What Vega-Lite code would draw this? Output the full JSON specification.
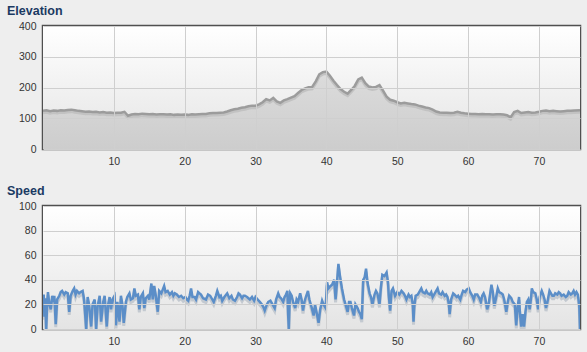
{
  "$schema": "https://vega.github.io/schema/vega-lite/v6.json",
  "background": "#eeeeee",
  "padding": {"left": 5, "top": 3, "right": 9, "bottom": 5},
  "spacing": 57,
  "bounds": "flush",
  "datasets": {
    "elev": [
      {"km":0,"elev":124},{"km":0.5,"elev":126},{"km":1,"elev":123},{"km":1.5,"elev":125},{"km":2,"elev":124},{"km":2.5,"elev":126},{"km":3,"elev":125},{"km":3.5,"elev":127},{"km":4,"elev":128},{"km":4.5,"elev":126},{"km":5,"elev":124},{"km":5.5,"elev":123},{"km":6,"elev":121},{"km":6.5,"elev":122},{"km":7,"elev":120},{"km":7.5,"elev":121},{"km":8,"elev":119},{"km":8.5,"elev":120},{"km":9,"elev":118},{"km":9.5,"elev":119},{"km":10,"elev":117},{"km":10.5,"elev":118},{"km":11,"elev":118},{"km":11.5,"elev":121},{"km":12,"elev":108},{"km":12.5,"elev":112},{"km":13,"elev":114},{"km":13.5,"elev":113},{"km":14,"elev":115},{"km":14.5,"elev":114},{"km":15,"elev":113},{"km":15.5,"elev":114},{"km":16,"elev":112},{"km":16.5,"elev":113},{"km":17,"elev":113},{"km":17.5,"elev":112},{"km":18,"elev":113},{"km":18.5,"elev":111},{"km":19,"elev":112},{"km":19.5,"elev":111},{"km":20,"elev":112},{"km":20.5,"elev":111},{"km":21,"elev":113},{"km":21.5,"elev":112},{"km":22,"elev":113},{"km":22.5,"elev":114},{"km":23,"elev":114},{"km":23.5,"elev":116},{"km":24,"elev":117},{"km":24.5,"elev":117},{"km":25,"elev":118},{"km":25.5,"elev":119},{"km":26,"elev":122},{"km":26.5,"elev":126},{"km":27,"elev":129},{"km":27.5,"elev":131},{"km":28,"elev":134},{"km":28.5,"elev":136},{"km":29,"elev":139},{"km":29.5,"elev":141},{"km":30,"elev":141},{"km":30.5,"elev":145},{"km":31,"elev":152},{"km":31.5,"elev":162},{"km":32,"elev":158},{"km":32.5,"elev":166},{"km":33,"elev":155},{"km":33.5,"elev":150},{"km":34,"elev":158},{"km":34.5,"elev":162},{"km":35,"elev":167},{"km":35.5,"elev":172},{"km":36,"elev":182},{"km":36.5,"elev":192},{"km":37,"elev":197},{"km":37.5,"elev":201},{"km":38,"elev":202},{"km":38.5,"elev":220},{"km":39,"elev":243},{"km":39.5,"elev":250},{"km":40,"elev":252},{"km":40.5,"elev":238},{"km":41,"elev":222},{"km":41.5,"elev":208},{"km":42,"elev":195},{"km":42.5,"elev":186},{"km":43,"elev":180},{"km":43.5,"elev":192},{"km":44,"elev":205},{"km":44.5,"elev":226},{"km":45,"elev":232},{"km":45.5,"elev":214},{"km":46,"elev":203},{"km":46.5,"elev":200},{"km":47,"elev":202},{"km":47.5,"elev":208},{"km":48,"elev":190},{"km":48.5,"elev":170},{"km":49,"elev":160},{"km":49.5,"elev":157},{"km":50,"elev":152},{"km":50.5,"elev":148},{"km":51,"elev":150},{"km":51.5,"elev":148},{"km":52,"elev":146},{"km":52.5,"elev":145},{"km":53,"elev":141},{"km":53.5,"elev":138},{"km":54,"elev":135},{"km":54.5,"elev":133},{"km":55,"elev":128},{"km":55.5,"elev":122},{"km":56,"elev":119},{"km":56.5,"elev":118},{"km":57,"elev":118},{"km":57.5,"elev":117},{"km":58,"elev":118},{"km":58.5,"elev":121},{"km":59,"elev":118},{"km":59.5,"elev":116},{"km":60,"elev":115},{"km":60.5,"elev":114},{"km":61,"elev":114},{"km":61.5,"elev":113},{"km":62,"elev":114},{"km":62.5,"elev":113},{"km":63,"elev":113},{"km":63.5,"elev":112},{"km":64,"elev":113},{"km":64.5,"elev":113},{"km":65,"elev":112},{"km":65.5,"elev":110},{"km":66,"elev":103},{"km":66.5,"elev":120},{"km":67,"elev":124},{"km":67.5,"elev":117},{"km":68,"elev":119},{"km":68.5,"elev":120},{"km":69,"elev":118},{"km":69.5,"elev":119},{"km":70,"elev":121},{"km":70.5,"elev":124},{"km":71,"elev":125},{"km":71.5,"elev":123},{"km":72,"elev":124},{"km":72.5,"elev":123},{"km":73,"elev":122},{"km":73.5,"elev":123},{"km":74,"elev":124},{"km":74.5,"elev":124},{"km":75,"elev":125},{"km":75.8,"elev":126}
    ],
    "speed": [
      {"km":0.0,"speed":20},{"km":0.1,"speed":28},{"km":0.2,"speed":10},{"km":0.3,"speed":25},{"km":0.45,"speed":0},{"km":0.6,"speed":22},{"km":0.7,"speed":30},{"km":0.9,"speed":20},{"km":1.1,"speed":16},{"km":1.3,"speed":27},{"km":1.5,"speed":22},{"km":1.6,"speed":27},{"km":1.8,"speed":4},{"km":2.0,"speed":24},{"km":2.3,"speed":27},{"km":2.5,"speed":30},{"km":2.7,"speed":31},{"km":3.0,"speed":28},{"km":3.2,"speed":30},{"km":3.5,"speed":29},{"km":3.7,"speed":14},{"km":3.9,"speed":27},{"km":4.2,"speed":31},{"km":4.4,"speed":33},{"km":4.6,"speed":28},{"km":4.8,"speed":31},{"km":5.1,"speed":29},{"km":5.3,"speed":30},{"km":5.6,"speed":31},{"km":5.8,"speed":24},{"km":6.1,"speed":0},{"km":6.3,"speed":26},{"km":6.5,"speed":20},{"km":6.8,"speed":2},{"km":7.0,"speed":20},{"km":7.3,"speed":24},{"km":7.5,"speed":0},{"km":7.7,"speed":18},{"km":8.0,"speed":27},{"km":8.2,"speed":6},{"km":8.5,"speed":22},{"km":8.7,"speed":27},{"km":9.0,"speed":2},{"km":9.2,"speed":20},{"km":9.4,"speed":26},{"km":9.6,"speed":16},{"km":9.8,"speed":24},{"km":10.1,"speed":27},{"km":10.3,"speed":3},{"km":10.5,"speed":22},{"km":10.8,"speed":6},{"km":11.0,"speed":27},{"km":11.2,"speed":20},{"km":11.4,"speed":5},{"km":11.7,"speed":22},{"km":11.9,"speed":26},{"km":12.2,"speed":29},{"km":12.4,"speed":24},{"km":12.7,"speed":25},{"km":12.9,"speed":33},{"km":13.1,"speed":27},{"km":13.4,"speed":28},{"km":13.6,"speed":16},{"km":13.8,"speed":26},{"km":14.1,"speed":29},{"km":14.3,"speed":17},{"km":14.5,"speed":25},{"km":14.8,"speed":27},{"km":15.0,"speed":24},{"km":15.3,"speed":37},{"km":15.5,"speed":24},{"km":15.7,"speed":35},{"km":15.9,"speed":28},{"km":16.2,"speed":14},{"km":16.4,"speed":31},{"km":16.7,"speed":29},{"km":16.9,"speed":32},{"km":17.1,"speed":35},{"km":17.3,"speed":30},{"km":17.6,"speed":31},{"km":17.9,"speed":28},{"km":18.2,"speed":30},{"km":18.4,"speed":27},{"km":18.6,"speed":29},{"km":18.9,"speed":28},{"km":19.2,"speed":26},{"km":19.5,"speed":27},{"km":19.8,"speed":25},{"km":20.1,"speed":26},{"km":20.3,"speed":24},{"km":20.5,"speed":23},{"km":20.7,"speed":27},{"km":20.9,"speed":33},{"km":21.1,"speed":26},{"km":21.4,"speed":26},{"km":21.6,"speed":24},{"km":21.9,"speed":30},{"km":22.1,"speed":29},{"km":22.3,"speed":28},{"km":22.6,"speed":25},{"km":23.0,"speed":24},{"km":23.3,"speed":28},{"km":23.6,"speed":27},{"km":23.8,"speed":25},{"km":24.1,"speed":22},{"km":24.4,"speed":27},{"km":24.6,"speed":31},{"km":24.9,"speed":26},{"km":25.1,"speed":27},{"km":25.3,"speed":23},{"km":25.6,"speed":26},{"km":26.0,"speed":29},{"km":26.3,"speed":25},{"km":26.6,"speed":27},{"km":26.8,"speed":24},{"km":27.1,"speed":23},{"km":27.4,"speed":26},{"km":27.6,"speed":29},{"km":27.8,"speed":28},{"km":28.1,"speed":25},{"km":28.3,"speed":27},{"km":28.5,"speed":27},{"km":28.8,"speed":26},{"km":29.0,"speed":25},{"km":29.2,"speed":24},{"km":29.5,"speed":26},{"km":29.8,"speed":23},{"km":30.0,"speed":26},{"km":30.3,"speed":24},{"km":30.6,"speed":22},{"km":30.9,"speed":20},{"km":31.1,"speed":18},{"km":31.3,"speed":15},{"km":31.6,"speed":20},{"km":31.8,"speed":22},{"km":32.1,"speed":23},{"km":32.3,"speed":21},{"km":32.5,"speed":19},{"km":32.7,"speed":17},{"km":32.9,"speed":24},{"km":33.2,"speed":29},{"km":33.4,"speed":26},{"km":33.6,"speed":25},{"km":33.9,"speed":22},{"km":34.1,"speed":26},{"km":34.3,"speed":28},{"km":34.5,"speed":31},{"km":34.6,"speed":12},{"km":34.7,"speed":0},{"km":34.8,"speed":20},{"km":34.9,"speed":29},{"km":35.1,"speed":27},{"km":35.3,"speed":22},{"km":35.6,"speed":17},{"km":35.8,"speed":24},{"km":36.0,"speed":22},{"km":36.3,"speed":29},{"km":36.5,"speed":24},{"km":36.7,"speed":15},{"km":36.9,"speed":22},{"km":37.1,"speed":26},{"km":37.4,"speed":31},{"km":37.6,"speed":24},{"km":37.9,"speed":18},{"km":38.2,"speed":11},{"km":38.4,"speed":20},{"km":38.6,"speed":14},{"km":38.9,"speed":5},{"km":39.1,"speed":15},{"km":39.4,"speed":23},{"km":39.6,"speed":20},{"km":39.9,"speed":17},{"km":40.1,"speed":38},{"km":40.3,"speed":33},{"km":40.6,"speed":35},{"km":40.8,"speed":36},{"km":41.1,"speed":40},{"km":41.3,"speed":24},{"km":41.5,"speed":38},{"km":41.7,"speed":53},{"km":41.9,"speed":44},{"km":42.0,"speed":40},{"km":42.2,"speed":33},{"km":42.5,"speed":24},{"km":42.7,"speed":20},{"km":43.0,"speed":14},{"km":43.2,"speed":22},{"km":43.4,"speed":22},{"km":43.6,"speed":17},{"km":43.9,"speed":11},{"km":44.1,"speed":20},{"km":44.4,"speed":17},{"km":44.6,"speed":14},{"km":44.8,"speed":12},{"km":45.0,"speed":8},{"km":45.2,"speed":40},{"km":45.4,"speed":42},{"km":45.6,"speed":49},{"km":45.8,"speed":38},{"km":46.1,"speed":29},{"km":46.3,"speed":26},{"km":46.5,"speed":20},{"km":46.8,"speed":28},{"km":47.0,"speed":31},{"km":47.2,"speed":29},{"km":47.5,"speed":20},{"km":47.7,"speed":34},{"km":47.9,"speed":44},{"km":48.2,"speed":43},{"km":48.5,"speed":46},{"km":48.7,"speed":38},{"km":48.8,"speed":28},{"km":49.0,"speed":15},{"km":49.2,"speed":31},{"km":49.4,"speed":33},{"km":49.7,"speed":27},{"km":50.0,"speed":30},{"km":50.3,"speed":28},{"km":50.6,"speed":31},{"km":50.9,"speed":29},{"km":51.1,"speed":27},{"km":51.3,"speed":24},{"km":51.6,"speed":28},{"km":51.8,"speed":26},{"km":52.0,"speed":27},{"km":52.2,"speed":20},{"km":52.3,"speed":6},{"km":52.4,"speed":18},{"km":52.6,"speed":27},{"km":52.9,"speed":28},{"km":53.1,"speed":30},{"km":53.4,"speed":33},{"km":53.6,"speed":30},{"km":53.9,"speed":29},{"km":54.1,"speed":31},{"km":54.3,"speed":29},{"km":54.6,"speed":28},{"km":54.8,"speed":30},{"km":55.0,"speed":26},{"km":55.3,"speed":29},{"km":55.5,"speed":31},{"km":55.7,"speed":33},{"km":55.9,"speed":29},{"km":56.2,"speed":28},{"km":56.4,"speed":30},{"km":56.7,"speed":27},{"km":56.9,"speed":28},{"km":57.1,"speed":26},{"km":57.3,"speed":20},{"km":57.4,"speed":12},{"km":57.6,"speed":24},{"km":57.9,"speed":29},{"km":58.1,"speed":28},{"km":58.4,"speed":26},{"km":58.6,"speed":27},{"km":58.9,"speed":24},{"km":59.1,"speed":28},{"km":59.3,"speed":31},{"km":59.6,"speed":30},{"km":59.8,"speed":32},{"km":60.1,"speed":33},{"km":60.3,"speed":30},{"km":60.6,"speed":27},{"km":60.8,"speed":24},{"km":61.0,"speed":28},{"km":61.3,"speed":28},{"km":61.6,"speed":25},{"km":61.8,"speed":22},{"km":62.0,"speed":27},{"km":62.2,"speed":29},{"km":62.4,"speed":26},{"km":62.7,"speed":16},{"km":62.9,"speed":20},{"km":63.1,"speed":28},{"km":63.3,"speed":36},{"km":63.5,"speed":30},{"km":63.7,"speed":19},{"km":63.9,"speed":24},{"km":64.2,"speed":33},{"km":64.4,"speed":30},{"km":64.7,"speed":29},{"km":64.9,"speed":28},{"km":65.1,"speed":24},{"km":65.4,"speed":14},{"km":65.6,"speed":22},{"km":65.8,"speed":27},{"km":66.1,"speed":25},{"km":66.3,"speed":22},{"km":66.6,"speed":20},{"km":66.8,"speed":3},{"km":67.0,"speed":18},{"km":67.2,"speed":26},{"km":67.3,"speed":15},{"km":67.5,"speed":2},{"km":67.7,"speed":12},{"km":67.9,"speed":2},{"km":68.1,"speed":14},{"km":68.3,"speed":22},{"km":68.5,"speed":24},{"km":68.7,"speed":16},{"km":68.9,"speed":26},{"km":69.0,"speed":33},{"km":69.2,"speed":30},{"km":69.5,"speed":29},{"km":69.7,"speed":24},{"km":69.9,"speed":16},{"km":70.1,"speed":26},{"km":70.4,"speed":31},{"km":70.6,"speed":28},{"km":70.8,"speed":24},{"km":71.0,"speed":17},{"km":71.2,"speed":22},{"km":71.5,"speed":31},{"km":71.7,"speed":29},{"km":71.9,"speed":27},{"km":72.1,"speed":27},{"km":72.3,"speed":29},{"km":72.6,"speed":28},{"km":72.8,"speed":30},{"km":73.0,"speed":29},{"km":73.2,"speed":27},{"km":73.5,"speed":28},{"km":73.8,"speed":26},{"km":74.0,"speed":27},{"km":74.2,"speed":30},{"km":74.5,"speed":28},{"km":74.7,"speed":29},{"km":74.9,"speed":31},{"km":75.1,"speed":28},{"km":75.3,"speed":30},{"km":75.5,"speed":28},{"km":75.7,"speed":19},{"km":75.8,"speed":0}
    ]
  },
  "vconcat": [
    {
      "width": 537,
      "height": 123,
      "title": "Elevation",
      "layer": [
        {
          "data": {"values": [{}]},
          "mark": {"type": "rect", "fill": {"gradient": "linear", "x1": 0, "y1": 0, "x2": 0, "y2": 1, "stops": [{"offset": 0, "color": "#ffffff"}, {"offset": 1, "color": "#e4e4e4"}]}},
          "encoding": {
            "x": {"datum": 0, "type": "quantitative", "scale": {"domain": [0, 75.8], "nice": false, "zero": false}, "axis": {"values": [10, 20, 30, 40, 50, 60, 70], "labelPadding": 7, "grid": true, "title": null, "zindex": 1, "labelOverlap": false}},
            "x2": {"datum": 75.8},
            "y": {"datum": 0, "type": "quantitative", "scale": {"domain": [0, 400], "nice": false}, "axis": {"values": [0, 100, 200, 300, 400], "labelPadding": 7, "grid": true, "title": null, "zindex": 1, "labelOverlap": false}},
            "y2": {"datum": 400}
          }
        },
        {
          "data": {"name": "elev"},
          "mark": {"type": "area", "clip": true, "fill": {"gradient": "linear", "x1": 0, "y1": 0, "x2": 0, "y2": 1, "stops": [{"offset": 0, "color": "#dcdcdc"}, {"offset": 1, "color": "#cdcdcd"}]}},
          "encoding": {
            "x": {"field": "km", "type": "quantitative", "axis": {"values": [10, 20, 30, 40, 50, 60, 70], "labelPadding": 7, "grid": true, "title": null, "zindex": 1, "labelOverlap": false}},
            "y": {"field": "elev", "type": "quantitative", "axis": {"values": [0, 100, 200, 300, 400], "labelPadding": 7, "grid": true, "title": null, "zindex": 1, "labelOverlap": false}}
          }
        },
        {
          "data": {"name": "elev"},
          "mark": {"type": "line", "clip": true, "stroke": "#c2c2c2", "strokeWidth": 3, "yOffset": 2},
          "encoding": {
            "x": {"field": "km", "type": "quantitative", "axis": {"values": [10, 20, 30, 40, 50, 60, 70], "labelPadding": 7, "grid": true, "title": null, "zindex": 1, "labelOverlap": false}},
            "y": {"field": "elev", "type": "quantitative", "axis": {"values": [0, 100, 200, 300, 400], "labelPadding": 7, "grid": true, "title": null, "zindex": 1, "labelOverlap": false}}
          }
        },
        {
          "data": {"name": "elev"},
          "mark": {"type": "line", "clip": true, "stroke": "#9c9c9c", "strokeWidth": 2.5},
          "encoding": {
            "x": {"field": "km", "type": "quantitative", "axis": {"values": [10, 20, 30, 40, 50, 60, 70], "labelPadding": 7, "grid": true, "title": null, "zindex": 1, "labelOverlap": false}},
            "y": {"field": "elev", "type": "quantitative", "axis": {"values": [0, 100, 200, 300, 400], "labelPadding": 7, "grid": true, "title": null, "zindex": 1, "labelOverlap": false}}
          }
        }
      ]
    },
    {
      "width": 537,
      "height": 123,
      "title": "Speed",
      "layer": [
        {
          "data": {"values": [{}]},
          "mark": {"type": "rect", "fill": {"gradient": "linear", "x1": 0, "y1": 0, "x2": 0, "y2": 1, "stops": [{"offset": 0, "color": "#ffffff"}, {"offset": 1, "color": "#e4e4e4"}]}},
          "encoding": {
            "x": {"datum": 0, "type": "quantitative", "scale": {"domain": [0, 75.8], "nice": false, "zero": false}, "axis": {"values": [10, 20, 30, 40, 50, 60, 70], "labelPadding": 7, "grid": true, "title": null, "zindex": 1, "labelOverlap": false}},
            "x2": {"datum": 75.8},
            "y": {"datum": 0, "type": "quantitative", "scale": {"domain": [0, 100], "nice": false}, "axis": {"values": [0, 20, 40, 60, 80, 100], "labelPadding": 7, "grid": true, "title": null, "zindex": 1, "labelOverlap": false}},
            "y2": {"datum": 100}
          }
        },
        {
          "data": {"name": "speed"},
          "mark": {"type": "line", "clip": true, "stroke": "#c3c9d0", "strokeWidth": 3, "yOffset": 3},
          "encoding": {
            "x": {"field": "km", "type": "quantitative", "axis": {"values": [10, 20, 30, 40, 50, 60, 70], "labelPadding": 7, "grid": true, "title": null, "zindex": 1, "labelOverlap": false}},
            "y": {"field": "speed", "type": "quantitative", "axis": {"values": [0, 20, 40, 60, 80, 100], "labelPadding": 7, "grid": true, "title": null, "zindex": 1, "labelOverlap": false}}
          }
        },
        {
          "data": {"name": "speed"},
          "mark": {"type": "line", "clip": true, "stroke": "#5b8ec8", "strokeWidth": 2.5},
          "encoding": {
            "x": {"field": "km", "type": "quantitative", "axis": {"values": [10, 20, 30, 40, 50, 60, 70], "labelPadding": 7, "grid": true, "title": null, "zindex": 1, "labelOverlap": false}},
            "y": {"field": "speed", "type": "quantitative", "axis": {"values": [0, 20, 40, 60, 80, 100], "labelPadding": 7, "grid": true, "title": null, "zindex": 1, "labelOverlap": false}}
          }
        }
      ]
    }
  ],
  "config": {
    "view": {"stroke": "#505050", "strokeWidth": 2.5},
    "axis": {"labelFont": "Liberation Sans", "labelFontSize": 10.5, "labelColor": "#333333", "gridColor": "#cfcfcf", "gridWidth": 1, "domain": false, "ticks": false, "title": null},
    "title": {"font": "Liberation Sans", "fontSize": 12.5, "fontWeight": "bold", "color": "#1b3a63", "anchor": "start", "frame": "group", "dx": -36, "baseline": "alphabetic", "offset": 4}
  }
}
